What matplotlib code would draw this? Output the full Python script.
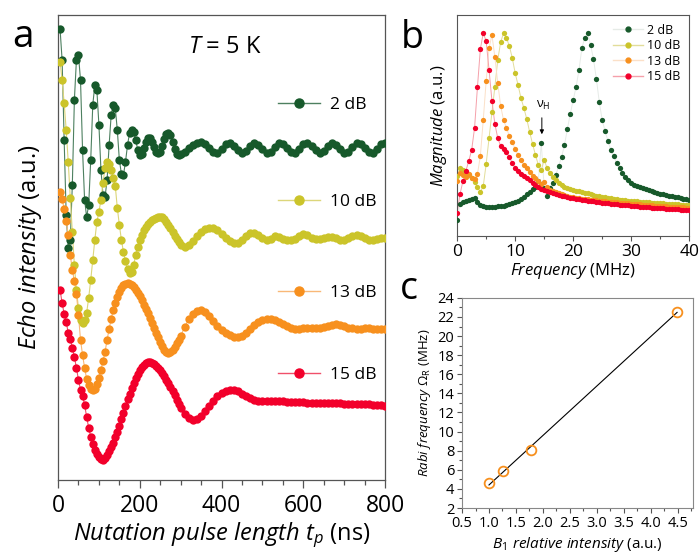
import matplotlib.pyplot as plt
import numpy as np
from matplotlib.lines import Line2D
from matplotlib.legend import Legend
from matplotlib.ticker import MultipleLocator

plt.rcParams['font.family'] = ['Open Sans', 'DejaVu Sans']
plt.rcParams['mathtext.fontset'] = 'custom'
plt.rcParams['mathtext.rm'] = 'Open Sans'
plt.rcParams['mathtext.it'] = 'Open Sans:italic'
plt.rcParams['mathtext.bf'] = 'Open Sans:bold'

# --- (a) echo intensity vs nutation pulse length (a.u.)
t_early = np.arange(5, 300, 5)
t_late = np.arange(300, 801, 10)
t_a = np.concatenate([t_early, t_late])

eco_2db = [451, 420, 340, 265, 232, 240, 295, 380, 420, 425,
           400, 330, 280, 263, 275, 320, 375, 395, 390, 355,
           310, 285, 283, 300, 335, 365, 375, 372, 350, 320,
           306, 305, 318, 335, 347, 350, 348, 340, 330, 325,
           326, 332, 338, 342, 342, 338, 333, 328, 327, 328,
           334, 341, 346, 347, 345, 338, 331, 326, 325,
           326, 328, 332, 335, 337, 338, 336, 332, 328, 327,
           331, 336, 337, 334, 330, 327, 329, 334, 337, 335,
           331, 327, 328, 333, 337, 336, 332, 328, 327, 331,
           336, 337, 334, 330, 327, 329, 334, 337, 335, 331,
           327, 328, 333, 337, 336, 332, 328, 327, 331, 336,
           337]
eco_10db = [418, 400, 377, 350, 318, 282, 248, 215, 190, 172,
            160, 157, 160, 167, 182, 200, 220, 240, 258, 268,
            280, 297, 312, 318, 316, 310, 302, 294, 272, 255,
            240, 228, 219, 211, 207, 208, 215, 225, 233, 240,
            245, 250, 253, 256, 258, 260, 261, 262, 263, 263,
            263, 261, 258, 255, 252, 248, 244, 241, 238,
            235, 233, 235, 239, 244, 248, 251, 252, 252, 250,
            246, 242, 239, 237, 237, 240, 244, 247, 247, 245,
            242, 240, 241, 244, 243, 241, 240, 240, 241, 244,
            246, 245, 242, 241, 241, 242, 243, 243, 242, 240,
            240, 242, 244, 245, 244, 242, 240, 240, 241, 242,
            242]
eco_13db = [288, 281, 271, 259, 245, 225, 210, 199, 186, 165,
            140, 125, 112, 101, 95, 91, 90, 91, 96, 102,
            110, 119, 128, 140, 151, 161, 170, 177, 183, 188,
            192, 195, 196, 197, 196, 195, 193, 190, 187, 184,
            180, 175, 171, 167, 162, 157, 152, 147, 143, 138,
            134, 130, 128, 127, 128, 130, 133, 137, 140,
            144, 153, 161, 166, 169, 170, 168, 164, 159, 154,
            150, 147, 145, 143, 143, 144, 147, 151, 155, 158,
            160, 161, 161, 160, 158, 156, 154, 152, 151, 151,
            152, 152, 152, 152, 152, 153, 154, 155, 156, 155,
            154, 152, 152, 151, 151, 152, 152, 151, 151, 151,
            151]
eco_15db = [190, 177, 166, 158, 147, 141, 132, 123, 112, 100,
            90, 84, 75, 63, 52, 43, 36, 30, 26, 23,
            21, 20, 22, 25, 29, 33, 37, 43, 48, 54,
            61, 67, 74, 81, 86, 92, 97, 102, 106, 110,
            113, 115, 117, 118, 118, 117, 116, 114, 112, 110,
            107, 104, 100, 97, 93, 89, 85, 80, 76,
            72, 66, 62, 60, 61, 64, 69, 74, 79, 84,
            87, 89, 90, 90, 89, 86, 84, 82, 80, 79,
            79, 79, 79, 79, 79, 79, 78, 78, 78, 78,
            78, 77, 77, 77, 77, 77, 77, 77, 77, 77,
            76, 76, 76, 76, 76, 76, 76, 75, 75, 75,
            74]

# --- (b) Fourier magnitude vs frequency (a.u.)
freq = np.arange(0, 40.01, 0.5)
mag_2db = [16, 32, 34, 35, 36, 37, 38, 34, 31, 30,
           29, 29, 29, 29, 30, 30, 30, 31, 32, 33,
           34, 35, 37, 39, 42, 44, 47, 49, 55, 93,
           48, 40, 48, 53, 61, 70, 79, 91, 107, 122,
           136, 149, 166, 188, 198, 203, 191, 177, 157, 134,
           116, 105, 95, 86, 80, 73, 68, 63, 59, 56,
           53, 51, 50, 49, 48, 47, 46, 45, 44, 43,
           42, 42, 41, 40, 40, 39, 39, 38, 37, 37,
           36]
mag_10db = [60, 68, 66, 64, 61, 58, 54, 49, 44, 50,
            72, 98, 124, 149, 176, 194, 203, 198, 190, 178,
            163, 151, 138, 128, 117, 104, 92, 81, 71, 66,
            76, 68, 63, 59, 56, 53, 51, 49, 48, 47,
            46, 45, 45, 44, 43, 43, 42, 41, 40, 40,
            39, 39, 38, 38, 37, 37, 36, 36, 36, 35,
            35, 35, 35, 34, 34, 34, 34, 33, 33, 33,
            33, 33, 32, 32, 32, 32, 32, 31, 31, 31,
            31]
mag_13db = [55, 63, 61, 59, 62, 58, 57, 62, 80, 116,
            155, 188, 201, 179, 153, 130, 116, 108, 100, 94,
            87, 81, 76, 71, 68, 64, 60, 58, 55, 52,
            54, 49, 46, 45, 44, 43, 42, 41, 40, 39,
            39, 38, 38, 37, 37, 37, 36, 36, 36, 35,
            35, 35, 34, 34, 34, 34, 33, 33, 33, 33,
            32, 32, 32, 32, 31, 31, 31, 31, 30, 30,
            30, 30, 30, 29, 29, 29, 29, 29, 29, 28,
            28]
mag_15db = [23, 42, 55, 65, 75, 86, 108, 149, 187, 203,
            195, 166, 135, 112, 98, 90, 87, 84, 79, 73,
            68, 65, 62, 60, 58, 56, 53, 51, 49, 47,
            46, 45, 44, 43, 42, 41, 40, 40, 39, 38,
            38, 37, 37, 36, 36, 35, 35, 35, 34, 34,
            33, 33, 33, 32, 32, 32, 31, 31, 31, 31,
            30, 30, 30, 29, 29, 29, 29, 28, 28, 28,
            28, 28, 27, 27, 27, 27, 27, 26, 26, 26,
            26]

# --- (c) Rabi frequency vs B1 relative intensity
b1_rel = [1.0, 1.26, 1.78, 4.49]
rabi_mhz = [4.6, 5.85, 8.1, 22.55]

labels = ['2 dB', '10 dB', '13 dB', '15 dB']
colores = ['#17592b', '#cbc42a', '#f7901e', '#f2002b']
lineas_a = ['#4d8060', '#dcd67a', '#f9b877', '#f0506a']
lineas_b = ['#e6ebe7', '#e2dd9a', '#fbe0c8', '#f5a0aa']

fig = plt.figure(figsize=(6.99, 5.56), dpi=100)

# ---------------- panel a
ax = fig.add_axes([0.083, 0.137, 0.468, 0.836])
for y, c, lc in zip([eco_2db, eco_10db, eco_13db, eco_15db], colores, lineas_a):
    ax.plot(t_a, y, '-', color=lc, lw=0.8, zorder=2)
    ax.plot(t_a, y, 'o', color=c, ms=6, mec='none', zorder=3)
ax.set_xlim(0, 800)
ax.set_ylim(0, 465)
ax.set_yticks([])
ax.xaxis.set_major_locator(MultipleLocator(200))
ax.xaxis.set_minor_locator(MultipleLocator(50))
ax.tick_params(axis='x', which='major', direction='out', length=6, width=0.9,
               labelsize=16.5, pad=4, color='#555555')
ax.tick_params(axis='x', which='minor', direction='out', length=3.5, width=0.9,
               color='#555555')
for s in ax.spines.values():
    s.set_color('#555555')
    s.set_linewidth(0.9)
ax.set_xlabel(r'$\mathit{Nutation\ pulse\ length\ t_p}$ (ns)', fontsize=17, labelpad=2)
ax.set_ylabel(r'$\mathit{Echo\ intensity}$ (a.u.)', fontsize=17, labelpad=10)
ax.text(0.51, 0.918, r'$\mathit{T}$ = 5 K', transform=ax.transAxes, fontsize=17,
        ha='center', va='baseline')

pos_ley = [0.806, 0.598, 0.402, 0.226]
for lab, c, lc, yy in zip(labels, colores, lineas_a, pos_ley):
    h = Line2D([0], [0], color=lc, lw=1.0, marker='o', ms=6.5, mfc=c, mec=c)
    ley = Legend(ax, [h], [lab], loc='center left', bbox_to_anchor=(0.673, yy),
                 frameon=False, fontsize=12.5, handlelength=2.4,
                 handletextpad=0.6, borderpad=0, borderaxespad=0, numpoints=1)
    ax.add_artist(ley)

# ---------------- panel b
axb = fig.add_axes([0.654, 0.5755, 0.332, 0.3975])
hb = []
for y, c, lc, lab in zip([mag_2db, mag_10db, mag_13db, mag_15db], colores, lineas_b, labels):
    axb.plot(freq, y, '-', color=lc, lw=0.7, zorder=2)
    axb.plot(freq, y, 'o', color=c, ms=3.8, mec='none', zorder=3)
    hb.append(Line2D([0], [0], color=lc, lw=1.0, marker='o', ms=3.5, mfc=c, mec=c))
axb.set_xlim(0, 40)
axb.set_ylim(0, 221)
axb.set_yticks([])
axb.xaxis.set_major_locator(MultipleLocator(10))
axb.xaxis.set_minor_locator(MultipleLocator(5))
axb.tick_params(axis='x', which='major', direction='out', length=3.5, width=0.8,
                labelsize=12.5, pad=2, color='#555555')
axb.tick_params(axis='x', which='minor', direction='out', length=2, width=0.8,
                color='#555555')
for s in axb.spines.values():
    s.set_color('#555555')
    s.set_linewidth(0.8)
axb.set_xlabel(r'$\mathit{Frequency}$ (MHz)', fontsize=12, labelpad=1)
axb.set_ylabel(r'$\mathit{Magnitude}$ (a.u.)', fontsize=12, labelpad=6)
axb.legend(hb, labels, loc='upper right', bbox_to_anchor=(1.0, 1.0), frameon=False,
           fontsize=9, handlelength=2.4, handletextpad=0.3, labelspacing=0.2,
           borderpad=0.4, borderaxespad=0.3, numpoints=1)
axb.annotate('', xy=(14.6, 99), xytext=(14.6, 121),
             arrowprops=dict(arrowstyle='-|>', color='black', lw=0.7,
                             mutation_scale=6))
axb.text(14.9, 124, r'$\mathrm{\nu}_\mathrm{H}$', fontsize=9, ha='center', va='bottom')

# ---------------- panel c
axc = fig.add_axes([0.661, 0.0863, 0.330, 0.378])
pend, orden = np.polyfit(b1_rel, rabi_mhz, 1)
xs = np.array([b1_rel[0], b1_rel[-1]])
axc.plot(xs, pend * xs + orden, '-', color='black', lw=0.8, zorder=2)
axc.plot(b1_rel, rabi_mhz, 'o', ms=7, mfc='none', mec='#f7901e', mew=1.3, zorder=3)
axc.set_xlim(0.5, 4.78)
axc.set_ylim(2, 24)
axc.xaxis.set_major_locator(MultipleLocator(0.5))
axc.xaxis.set_minor_locator(MultipleLocator(0.25))
axc.yaxis.set_major_locator(MultipleLocator(2))
axc.yaxis.set_minor_locator(MultipleLocator(1))
axc.tick_params(which='major', direction='out', length=3.5, width=0.8,
                labelsize=10.5, pad=2, color='#555555')
axc.tick_params(which='minor', direction='out', length=2, width=0.8, color='#555555')
for s in axc.spines.values():
    s.set_color('#888888')
    s.set_linewidth(0.8)
axc.set_xlabel(r'$\mathit{B_1\ relative\ intensity}$ (a.u.)', fontsize=11, labelpad=3)
axc.set_ylabel(r'$\mathit{Rabi\ frequency}\ \Omega_\mathrm{R}$ (MHz)', fontsize=9.5, labelpad=3)

fig.text(0.018, 0.9155, 'a', fontsize=28, va='baseline')
fig.text(0.574, 0.914, 'b', fontsize=27, va='baseline')
fig.text(0.572, 0.463, 'c', fontsize=27, va='baseline')

fig.savefig('out.png', dpi=100)
